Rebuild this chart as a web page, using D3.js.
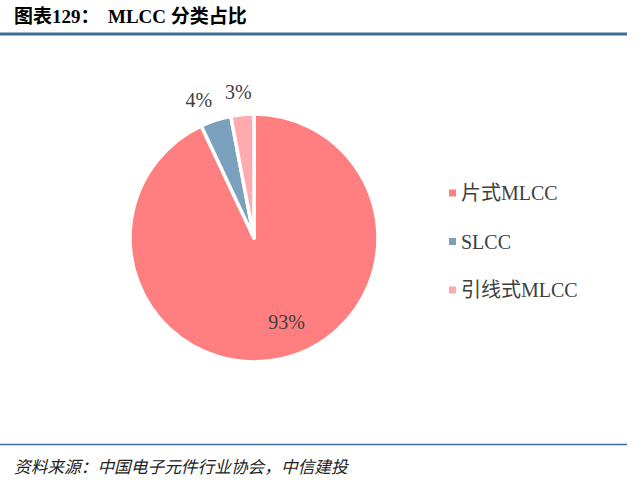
<!DOCTYPE html>
<html lang="zh">
<head>
  <meta charset="UTF-8" />
  <title>MLCC 分类占比</title>
  <style>
    body { margin: 0; background: #fff; }
    svg { display: block; }
    .title { font: bold 19px 'Liberation Serif', 'Noto Sans CJK SC', serif; fill: #000; }
    .source { font: italic 16.7px 'Liberation Serif', 'Noto Sans CJK SC', serif; fill: #222; }
    .lbl { font: 20px 'Liberation Serif', 'Noto Sans CJK SC', serif; fill: #404040; }
    .legend text { font: 20px 'Liberation Serif', 'Noto Sans CJK SC', serif; fill: #404040; }
  </style>
</head>
<body>
  <svg id="chart" width="640" height="481"></svg>
  <script src="https://d3js.org/d3.v7.min.js"></script>
  <script>
    const categories = ["片式MLCC", "SLCC", "引线式MLCC"];
    const shares = [93, 4, 3];
    const colors = ["#ff7f80", "#7ba0be", "#ffaaae"];

    const svg = d3.select("#chart");

    // title + rules
    svg.append("text").attr("class", "title").attr("x", 14).attr("y", 23).text("图表129：");
    svg.append("text").attr("class", "title").attr("x", 108).attr("y", 23).text("MLCC 分类占比");
    svg.append("line").attr("x1", 0).attr("x2", 627).attr("y1", 34).attr("y2", 34)
      .attr("stroke", "#3d6b94").attr("stroke-width", 3);
    svg.append("line").attr("x1", 0).attr("x2", 627).attr("y1", 444.5).attr("y2", 444.5)
      .attr("stroke", "#3d6b94").attr("stroke-width", 1.5);
    svg.append("text").attr("class", "source").attr("x", 14).attr("y", 473)
      .text("资料来源：中国电子元件行业协会，中信建投");

    // pie
    const cx = 254, cy = 238, R = 124;
    const pie = d3.pie().sort(null).value(d => d);
    const arcs = pie(shares);
    const arc = d3.arc().innerRadius(0).outerRadius(R);
    const g = svg.append("g").attr("transform", `translate(${cx},${cy})`);

    g.selectAll("path").data(arcs).enter().append("path")
      .attr("d", arc)
      .attr("fill", (d, i) => colors[i])
      .attr("stroke", "#fff")
      .attr("stroke-width", 3.5)
      .attr("stroke-linejoin", "round");

    // labels: big slice inside, small ones outside
    const innerLbl = d3.arc().innerRadius(90).outerRadius(90);
    const outerLbl = d3.arc().innerRadius(146).outerRadius(146);
    const nudge = [[13, -4], [-10, 1], [-2, -1]];
    g.selectAll("text.lbl").data(arcs).enter().append("text")
      .attr("class", "lbl")
      .attr("text-anchor", "middle")
      .attr("dominant-baseline", "central")
      .attr("x", (d, i) => (i === 0 ? innerLbl : outerLbl).centroid(d)[0] + nudge[i][0])
      .attr("y", (d, i) => (i === 0 ? innerLbl : outerLbl).centroid(d)[1] + nudge[i][1])
      .text(d => d.data + "%");

    // legend
    const ly = d3.scalePoint().domain(categories).range([193, 290]);
    const lg = svg.append("g").attr("class", "legend");
    const item = lg.selectAll("g").data(categories).enter().append("g")
      .attr("transform", d => `translate(449,${ly(d)})`);
    item.append("rect").attr("x", 0).attr("y", -3.5).attr("width", 7).attr("height", 7)
      .attr("fill", (d, i) => colors[i]);
    item.append("text").attr("x", 12).attr("y", 0).attr("dominant-baseline", "central").text(d => d);
  </script>
</body>
</html>
